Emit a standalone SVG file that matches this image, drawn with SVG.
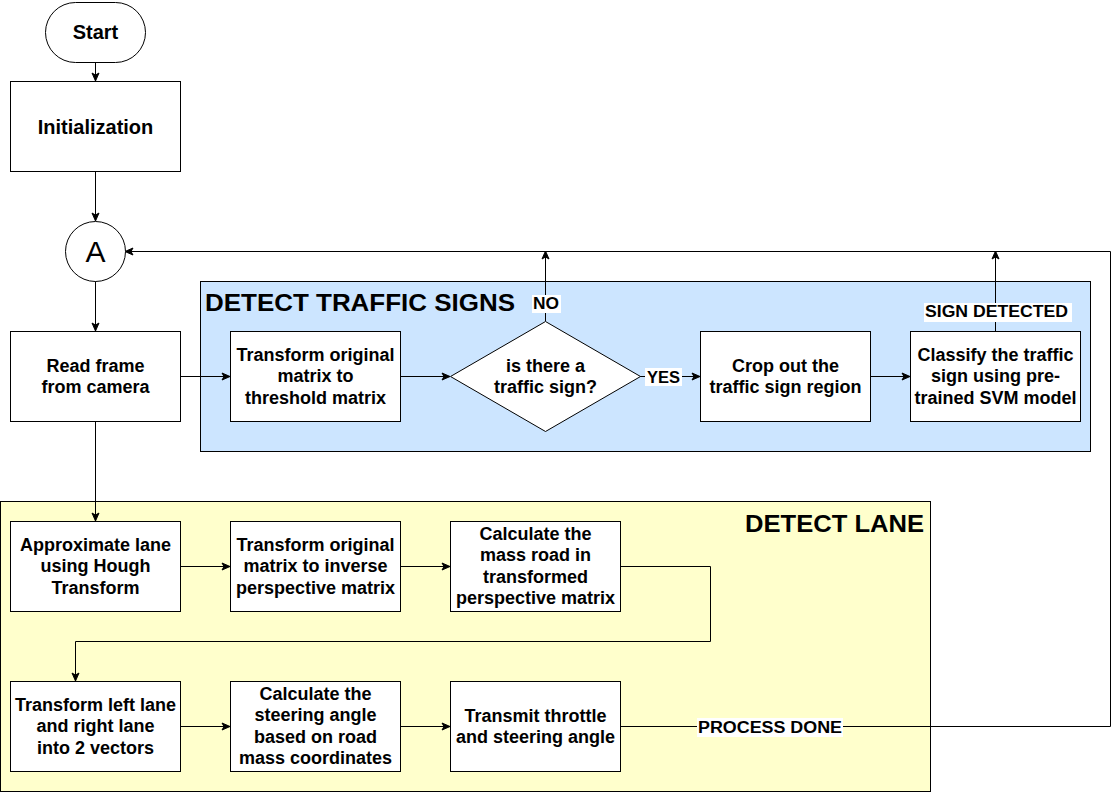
<svg xmlns="http://www.w3.org/2000/svg" width="1120" height="792" viewBox="0 0 1120 792">
<style>
.n{fill:#fff;stroke:#000;stroke-width:1}
.t{font-family:"Liberation Sans",Arial,sans-serif;font-weight:bold;font-size:18px;text-anchor:middle;fill:#000}
.big{font-size:20px}
.h{font-family:"Liberation Sans",Arial,sans-serif;font-weight:bold;font-size:24px;fill:#000}
.l{font-family:"Liberation Sans",Arial,sans-serif;font-weight:bold;font-size:16px;fill:#000}
.c{fill:none;stroke:#000;stroke-width:1}
</style>
<defs>
<marker id="a" markerWidth="10" markerHeight="10" refX="9" refY="5" orient="auto" markerUnits="userSpaceOnUse">
<path d="M1,1.5 L9,5 L1,8.5 L3,5 Z" fill="#000" stroke="#000" stroke-width="1"/>
</marker>
</defs>
<rect width="1120" height="792" fill="#fff"/>
<g id="group-signs">
<rect x="200.5" y="281.5" width="890" height="170" fill="#cce5ff" stroke="#000"/>
<text class="h" x="205" y="310.5" textLength="310" lengthAdjust="spacingAndGlyphs">DETECT TRAFFIC SIGNS</text>
</g>
<g id="group-lane">
<rect x="0.5" y="501.5" width="930" height="290" fill="#ffffcc" stroke="#000"/>
<text class="h" x="745" y="531.5" textLength="179" lengthAdjust="spacingAndGlyphs">DETECT LANE</text>
</g>
<g id="connectors">
<path class="c" d="M95.5,62 V81" marker-end="url(#a)"/>
<path class="c" d="M95.5,171 V221" marker-end="url(#a)"/>
<path class="c" d="M95.5,281 V331" marker-end="url(#a)"/>
<path class="c" d="M180,376.5 H230" marker-end="url(#a)"/>
<path class="c" d="M400,376.5 H450" marker-end="url(#a)"/>
<path class="c" d="M640,376.5 H700" marker-end="url(#a)"/>
<path class="c" d="M870,376.5 H910" marker-end="url(#a)"/>
<path class="c" d="M545.5,321 V251" marker-end="url(#a)"/>
<path class="c" d="M995.5,331 V251" marker-end="url(#a)"/>
<path class="c" d="M95.5,421 V521" marker-end="url(#a)"/>
<path class="c" d="M180,566.5 H230" marker-end="url(#a)"/>
<path class="c" d="M400,566.5 H450" marker-end="url(#a)"/>
<path class="c" d="M620,566.5 H710.5 V641.5 H75.5 V681" marker-end="url(#a)"/>
<path class="c" d="M180,726.5 H230" marker-end="url(#a)"/>
<path class="c" d="M400,726.5 H450" marker-end="url(#a)"/>
<path class="c" d="M620,726.5 H1110.5 V251.5 H125" marker-end="url(#a)"/>
<rect x="532" y="295" width="29" height="18" fill="#fff"/>
<text class="l" x="533" y="309" textLength="26" lengthAdjust="spacingAndGlyphs">NO</text>
<rect x="645" y="368" width="37" height="18" fill="#fff"/>
<text class="l" x="647" y="383" textLength="33" lengthAdjust="spacingAndGlyphs">YES</text>
<rect x="924" y="303" width="148" height="19" fill="#fff"/>
<text class="l" x="925" y="317" textLength="143" lengthAdjust="spacingAndGlyphs">SIGN DETECTED</text>
<rect x="697" y="718" width="146" height="19" fill="#fff"/>
<text class="l" x="698" y="733" textLength="144" lengthAdjust="spacingAndGlyphs">PROCESS DONE</text>
</g>
<g id="start">
<rect class="n" x="45.5" y="2.5" width="100" height="60" rx="30" ry="30" stroke-width="2"/>
<text class="t big" x="95.5" y="39">Start</text>
</g>
<g id="init">
<rect class="n" x="10.5" y="81.5" width="170" height="90"/>
<text class="t big" x="95.5" y="134">Initialization</text>
</g>
<g id="connA">
<circle class="n" cx="95.5" cy="251.5" r="30"/>
<text x="95.5" y="262" font-family="Liberation Sans,Arial,sans-serif" font-size="30" text-anchor="middle">A</text>
</g>
<g id="read">
<rect class="n" x="10.5" y="331.5" width="170" height="90"/>
<text class="t" x="95.5" y="372">Read frame</text>
<text class="t" x="95.5" y="393">from camera</text>
</g>
<g id="thresh">
<rect class="n" x="230.5" y="331.5" width="170" height="90"/>
<text class="t" x="315.5" y="361">Transform original</text>
<text class="t" x="315.5" y="382">matrix to</text>
<text class="t" x="315.5" y="404">threshold matrix</text>
</g>
<g id="decision">
<path class="n" d="M545.5,321.5 L640.5,376.5 L545.5,431.5 L450.5,376.5 Z"/>
<text class="t" x="545.5" y="372">is there a</text>
<text class="t" x="545.5" y="393">traffic sign?</text>
</g>
<g id="crop">
<rect class="n" x="700.5" y="331.5" width="170" height="90"/>
<text class="t" x="785.5" y="372">Crop out the</text>
<text class="t" x="785.5" y="393">traffic sign region</text>
</g>
<g id="classify">
<rect class="n" x="910.5" y="331.5" width="170" height="90"/>
<text class="t" x="995.5" y="361">Classify the traffic</text>
<text class="t" x="995.5" y="382">sign using pre-</text>
<text class="t" x="995.5" y="404">trained SVM model</text>
</g>
<g id="hough">
<rect class="n" x="10.5" y="521.5" width="170" height="90"/>
<text class="t" x="95.5" y="551">Approximate lane</text>
<text class="t" x="95.5" y="572">using Hough</text>
<text class="t" x="95.5" y="594">Transform</text>
</g>
<g id="inverse">
<rect class="n" x="230.5" y="521.5" width="170" height="90"/>
<text class="t" x="315.5" y="551">Transform original</text>
<text class="t" x="315.5" y="572">matrix to inverse</text>
<text class="t" x="315.5" y="594">perspective matrix</text>
</g>
<g id="mass">
<rect class="n" x="450.5" y="521.5" width="170" height="90"/>
<text class="t" x="535.5" y="540">Calculate the</text>
<text class="t" x="535.5" y="561">mass road in</text>
<text class="t" x="535.5" y="583">transformed</text>
<text class="t" x="535.5" y="604">perspective matrix</text>
</g>
<g id="vectors">
<rect class="n" x="10.5" y="681.5" width="170" height="90"/>
<text class="t" x="95.5" y="711">Transform left lane</text>
<text class="t" x="95.5" y="732">and right lane</text>
<text class="t" x="95.5" y="754">into 2 vectors</text>
</g>
<g id="steering">
<rect class="n" x="230.5" y="681.5" width="170" height="90"/>
<text class="t" x="315.5" y="700">Calculate the</text>
<text class="t" x="315.5" y="721">steering angle</text>
<text class="t" x="315.5" y="743">based on road</text>
<text class="t" x="315.5" y="764">mass coordinates</text>
</g>
<g id="transmit">
<rect class="n" x="450.5" y="681.5" width="170" height="90"/>
<text class="t" x="535.5" y="722">Transmit throttle</text>
<text class="t" x="535.5" y="743">and steering angle</text>
</g>
</svg>
